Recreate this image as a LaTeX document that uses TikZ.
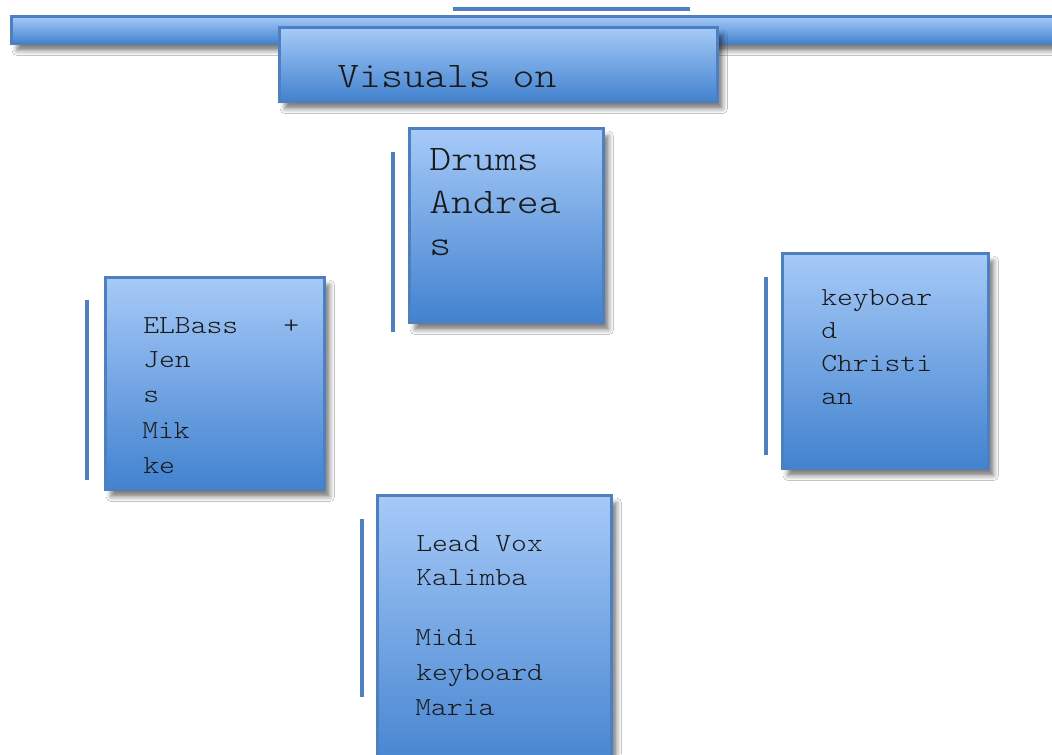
\documentclass[tikz,border=0pt]{standalone}
\usepackage{fontspec}
\newfontfamily\courlike[Extension=.otf, FakeStretch=1.16]{lmmonolt10-regular}
\usetikzlibrary{shadows.blur}
\definecolor{boxtop}{HTML}{A6CAF8}
\definecolor{boxbot}{HTML}{4282CF}
\definecolor{edgecol}{HTML}{4E7FBE}
\tikzset{
  panel/.style={draw=edgecol, line width=2.2pt, top color=boxtop, bottom color=boxbot,
    rectangle, inner sep=0pt, anchor=north west,
    blur shadow={shadow xshift=4pt, shadow yshift=-5.5pt, shadow blur radius=3.5pt, shadow opacity=50}},
  sidebar/.style={draw=edgecol, line width=3pt},
  bigtxt/.style={anchor=base west, inner sep=0pt, font=\courlike\fontsize{27}{32}\selectfont, text=black!90},
  smalltxt/.style={anchor=base west, inner sep=0pt, font=\courlike\fontsize{19.5}{24}\selectfont, text=black!90},
}
\begin{document}
\begin{tikzpicture}[x=0.75pt, y=-0.75pt]
\clip (0,0) rectangle (1052,754);
\fill[white] (0,0) rectangle (1052,754);
% top decorative line
\coordinate (tl1) at (453,9);
\coordinate (tl2) at (690,9);
\draw[sidebar] (tl1) -- (tl2);
% top bar
\node[panel, minimum width=1060*0.75pt, minimum height=27*0.75pt] (bar) at (10,15) {};
% title box
\node[panel, minimum width=438*0.75pt, minimum height=74*0.75pt] (title) at (278,26) {};
\node[bigtxt] (titletxt) at (337,87) {Visuals on};
% Drums
\coordinate (d1) at (393,152); \coordinate (d2) at (393,332);
\draw[sidebar] (d1) -- (d2);
\node[panel, minimum width=194*0.75pt, minimum height=194*0.75pt] (drums) at (408,127) {};
\node[bigtxt] (dr1) at (429,170) {Drums};
\node[bigtxt] (dr2) at (429,213) {Andrea};
\node[bigtxt] (dr3) at (429,255) {s};
% ELBass
\coordinate (b1) at (87,300); \coordinate (b2) at (87,480);
\draw[sidebar] (b1) -- (b2);
\node[panel, minimum width=219*0.75pt, minimum height=212*0.75pt] (bass) at (104,276) {};
\node[smalltxt] (ba1) at (143,333) {ELBass};
\node[smalltxt] (ba1p) at (283,333) {+};
\node[smalltxt] (ba2) at (143,367) {Jen};
\node[smalltxt] (ba3) at (143,402) {s};
\node[smalltxt] (ba4) at (142,438) {Mik};
\node[smalltxt] (ba5) at (143,473) {ke};
% keyboard
\coordinate (k1) at (766,277); \coordinate (k2) at (766,455);
\draw[sidebar] (k1) -- (k2);
\node[panel, minimum width=206*0.75pt, minimum height=215*0.75pt] (keys) at (781,252) {};
\node[smalltxt] (ke1) at (821,305) {keyboar};
\node[smalltxt] (ke2) at (821,338) {d};
\node[smalltxt] (ke3) at (821,371) {Christi};
\node[smalltxt] (ke4) at (821,404) {an};
% Lead Vox
\coordinate (v1) at (362,519); \coordinate (v2) at (362,697);
\draw[sidebar] (v1) -- (v2);
\node[panel, minimum width=234*0.75pt, minimum height=280*0.75pt] (vox) at (376,494) {};
\node[smalltxt] (vo1) at (416,551) {Lead Vox};
\node[smalltxt] (vo2) at (416,585) {Kalimba};
\node[smalltxt] (vo3) at (415,645) {Midi};
\node[smalltxt] (vo4) at (416,680) {keyboard};
\node[smalltxt] (vo5) at (415,715) {Maria};
\end{tikzpicture}
\end{document}
